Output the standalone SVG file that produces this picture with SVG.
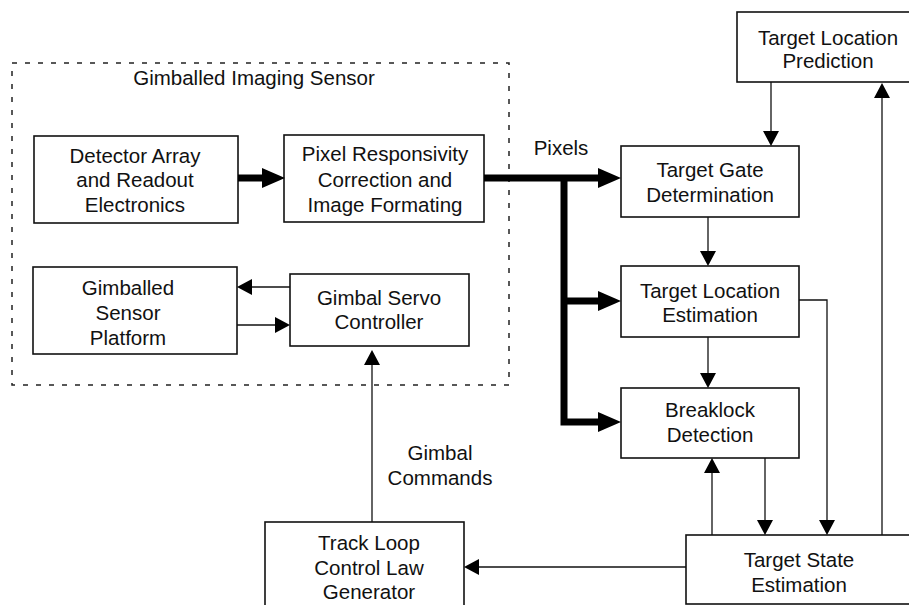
<svg xmlns="http://www.w3.org/2000/svg" width="909" height="605" viewBox="0 0 909 605">
<style>
.box{fill:#fff;stroke:#111;stroke-width:1.6}
.t{font-family:"Liberation Sans",Arial,sans-serif;font-size:20.5px;fill:#111;text-anchor:middle}
.thin{fill:none;stroke:#111;stroke-width:1.3}
.thick{fill:none;stroke:#000;stroke-width:7;stroke-linejoin:miter}
.dash{fill:none;stroke:#222;stroke-width:1.5;stroke-dasharray:5 8}
</style>
<defs>
<marker id="ah" viewBox="0 0 15 16" refX="0" refY="8" markerWidth="15" markerHeight="16" markerUnits="userSpaceOnUse" orient="auto"><path d="M0,0 L15,8 L0,16 z" fill="#000"/></marker>
<marker id="ahb" viewBox="0 0 23 20" refX="0" refY="10" markerWidth="23" markerHeight="20" markerUnits="userSpaceOnUse" orient="auto"><path d="M0,0 L23,10 L0,20 z" fill="#000"/></marker>
</defs>
<rect width="909" height="605" fill="#fff"/>

<g id="sensor-group">
<rect class="dash" x="12" y="63" width="497" height="322"/>
<text class="t" x="254" y="85">Gimballed Imaging Sensor</text>
</g>

<g id="detector">
<rect class="box" x="34" y="136" width="204" height="87"/>
<text class="t" x="135" y="163">Detector Array</text>
<text class="t" x="135" y="187">and Readout</text>
<text class="t" x="135" y="212">Electronics</text>
</g>

<g id="pixel-correction">
<rect class="box" x="284" y="135" width="200" height="87"/>
<text class="t" x="385" y="161">Pixel Responsivity</text>
<text class="t" x="385" y="187">Correction and</text>
<text class="t" x="385" y="212">Image Formating</text>
</g>

<g id="platform">
<rect class="box" x="33" y="267" width="204" height="87"/>
<text class="t" x="128" y="295">Gimballed</text>
<text class="t" x="128" y="320">Sensor</text>
<text class="t" x="128" y="345">Platform</text>
</g>

<g id="servo">
<rect class="box" x="290" y="274" width="179" height="72"/>
<text class="t" x="379" y="305">Gimbal Servo</text>
<text class="t" x="379" y="329">Controller</text>
</g>

<g id="prediction">
<rect class="box" x="737" y="12" width="180" height="70"/>
<text class="t" x="828" y="45">Target Location</text>
<text class="t" x="828" y="68">Prediction</text>
</g>

<g id="gate">
<rect class="box" x="621" y="146" width="178" height="71"/>
<text class="t" x="710" y="177">Target Gate</text>
<text class="t" x="710" y="202">Determination</text>
</g>

<g id="location">
<rect class="box" x="621" y="266" width="178" height="71"/>
<text class="t" x="710" y="298">Target Location</text>
<text class="t" x="710" y="322">Estimation</text>
</g>

<g id="breaklock">
<rect class="box" x="621" y="388" width="178" height="70"/>
<text class="t" x="710" y="417">Breaklock</text>
<text class="t" x="710" y="442">Detection</text>
</g>

<g id="state">
<rect class="box" x="686" y="535" width="240" height="69"/>
<text class="t" x="799" y="567">Target State</text>
<text class="t" x="799" y="592">Estimation</text>
</g>

<g id="trackloop">
<rect class="box" x="265" y="522" width="199" height="100"/>
<text class="t" x="369" y="550">Track Loop</text>
<text class="t" x="369" y="575">Control Law</text>
<text class="t" x="369" y="599">Generator</text>
</g>

<g id="connectors">
<path class="thick" d="M238,178 H262" marker-end="url(#ahb)"/>
<path class="thick" d="M484,178 H598" marker-end="url(#ahb)"/>
<path class="thick" d="M564,178 V422 H598" marker-end="url(#ahb)"/>
<path class="thick" d="M564,301 H598" marker-end="url(#ahb)"/>
<text class="t" x="561" y="155">Pixels</text>

<path class="thin" d="M290,287 H252" marker-end="url(#ah)"/>
<path class="thin" d="M237,325 H275" marker-end="url(#ah)"/>
<path class="thin" d="M372,522 V365" marker-end="url(#ah)"/>
<text class="t" x="440" y="460">Gimbal</text>
<text class="t" x="440" y="485">Commands</text>

<path class="thin" d="M771,82 V131" marker-end="url(#ah)"/>
<path class="thin" d="M708,217 V251" marker-end="url(#ah)"/>
<path class="thin" d="M708,337 V373" marker-end="url(#ah)"/>
<path class="thin" d="M799,300 H827 V520" marker-end="url(#ah)"/>
<path class="thin" d="M765,458 V520" marker-end="url(#ah)"/>
<path class="thin" d="M712,535 V473" marker-end="url(#ah)"/>
<path class="thin" d="M882,535 V98" marker-end="url(#ah)"/>
<path class="thin" d="M686,567 H479" marker-end="url(#ah)"/>
</g>
</svg>
